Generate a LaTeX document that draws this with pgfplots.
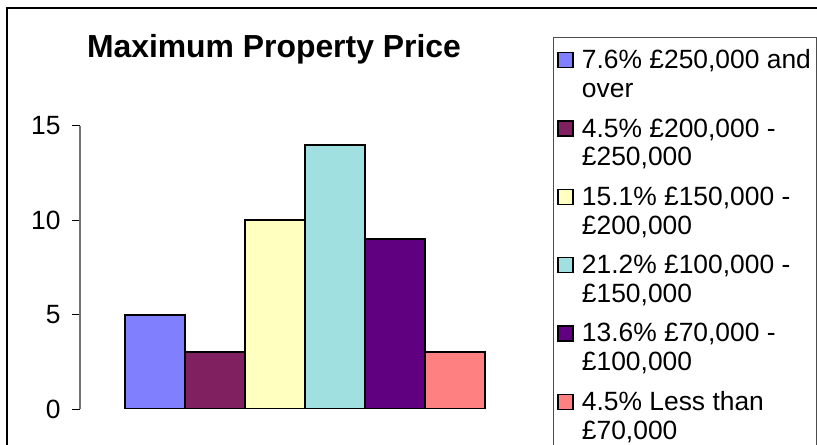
\documentclass[border=0pt]{standalone}
\usepackage{pgfplots}
\pgfplotsset{compat=1.18}
\usepackage{fontspec}
\setmainfont{Liberation Sans}
\definecolor{c1}{HTML}{8080FF}
\definecolor{c2}{HTML}{802060}
\definecolor{c3}{HTML}{FFFFC0}
\definecolor{c4}{HTML}{A0E0E0}
\definecolor{c5}{HTML}{600080}
\definecolor{c6}{HTML}{FF8080}
\begin{document}
\begin{tikzpicture}
\useasboundingbox (0,0) rectangle (817bp,445bp);
\clip (0,0) rectangle (817bp,445bp);
\fill[white] (0,0) rectangle (817bp,445bp);
\draw[line width=1.5bp] (7bp,-10bp) -- (7bp,437bp) -- (830bp,437bp);
\begin{axis}[
  at={(80bp,36bp)}, anchor=south west,
  scale only axis, width=450bp, height=283bp,
  xmin=-1.25, xmax=6.25, ymin=0, ymax=15,
  hide x axis,
  axis y line*=left,
  y axis line style={black!55, line width=1.5bp, -},
  ytick={0,5,10,15},
  tick align=outside, major tick length=8bp,
  ytick style={black, line width=1bp},
  yticklabel style={font=\fontsize{26.5}{30}\selectfont, xshift=-8bp},
  /pgf/number format/assume math mode=true,
  title={Maximum Property Price},
  title style={at={(0.431,1.251)}, anchor=center, font=\bfseries\fontsize{32}{38}\selectfont},
  ybar, bar width=1,
  every axis plot post/.append style={bar shift=0pt, draw=black, line width=1.8bp,
    legend image code/.code={\draw[##1, line width=1.2bp] (3bp,7bp) rectangle (18bp,22bp); \path (24bp,0bp);}},
  legend cell align=left,
  legend style={at={(1.051,1.314)}, anchor=north west, draw=black!70, line width=1bp,
    font=\fontsize{26.5}{29}\selectfont, cells={align=left}, row sep=15.5bp,
    inner xsep=4bp, inner ysep=10bp},
]
\addplot[fill=c1] coordinates {(0,5)};
\addlegendentry{7.6\% £250,000 and\hspace{40bp}\\over}
\addplot[fill=c2] coordinates {(1,3)};
\addlegendentry{4.5\% £200,000 -\\£250,000}
\addplot[fill=c3] coordinates {(2,10)};
\addlegendentry{15.1\% £150,000 -\\£200,000}
\addplot[fill=c4] coordinates {(3,14)};
\addlegendentry{21.2\% £100,000 -\\£150,000}
\addplot[fill=c5] coordinates {(4,9)};
\addlegendentry{13.6\% £70,000 -\\£100,000}
\addplot[fill=c6] coordinates {(5,3)};
\addlegendentry{4.5\% Less than\\£70,000}
\end{axis}
\end{tikzpicture}
\end{document}
